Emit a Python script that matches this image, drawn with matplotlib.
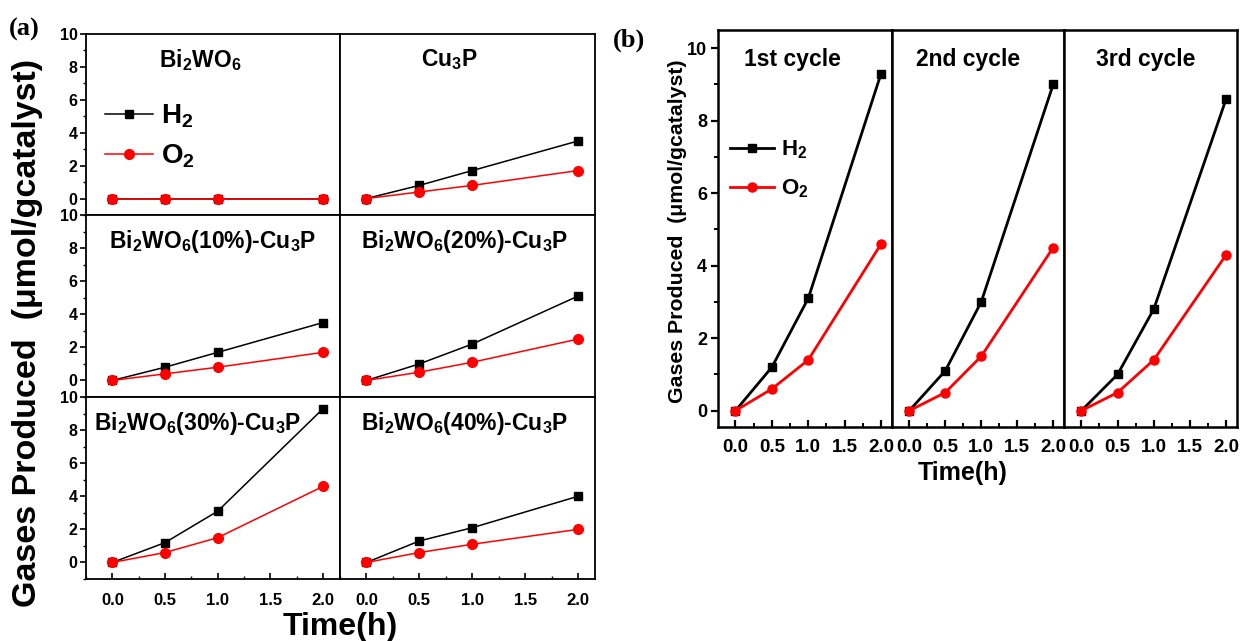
import matplotlib
matplotlib.use("Agg")
import matplotlib.pyplot as plt
from matplotlib.ticker import MultipleLocator

plt.rcParams['font.family'] = ['Liberation Sans', 'DejaVu Sans']
plt.rcParams['font.weight'] = 'bold'
plt.rcParams['mathtext.fontset'] = 'custom'
plt.rcParams['mathtext.rm'] = 'Liberation Sans:bold'
plt.rcParams['mathtext.bf'] = 'Liberation Sans:bold'
plt.rcParams['mathtext.it'] = 'Liberation Sans:bold'

# ---------------- data ----------------
time_h = [0.0, 0.5, 1.0, 2.0]

a_titles = [r'Bi$_{2}$WO$_{6}$', r'Cu$_{3}$P',
            r'Bi$_{2}$WO$_{6}$(10%)-Cu$_{3}$P', r'Bi$_{2}$WO$_{6}$(20%)-Cu$_{3}$P',
            r'Bi$_{2}$WO$_{6}$(30%)-Cu$_{3}$P', r'Bi$_{2}$WO$_{6}$(40%)-Cu$_{3}$P']
h2_bi2wo6 = [0, 0, 0, 0]
o2_bi2wo6 = [0, 0, 0, 0]
h2_cu3p = [0, 0.8, 1.7, 3.5]
o2_cu3p = [0, 0.4, 0.8, 1.7]
h2_10 = [0, 0.8, 1.7, 3.5]
o2_10 = [0, 0.4, 0.8, 1.7]
h2_20 = [0, 1.0, 2.2, 5.1]
o2_20 = [0, 0.5, 1.1, 2.5]
h2_30 = [0, 1.2, 3.1, 9.3]
o2_30 = [0, 0.6, 1.5, 4.6]
h2_40 = [0, 1.3, 2.1, 4.0]
o2_40 = [0, 0.6, 1.1, 2.0]

b_titles = ['1st cycle', '2nd cycle', '3rd cycle']
h2_cycle1 = [0, 1.2, 3.1, 9.3]
o2_cycle1 = [0, 0.6, 1.4, 4.6]
h2_cycle2 = [0, 1.1, 3.0, 9.0]
o2_cycle2 = [0, 0.5, 1.5, 4.5]
h2_cycle3 = [0, 1.0, 2.8, 8.6]
o2_cycle3 = [0, 0.5, 1.4, 4.3]

x_ticks = [0.0, 0.5, 1.0, 1.5, 2.0]
x_ticklabels = ['0.0', '0.5', '1.0', '1.5', '2.0']

a_h2 = [h2_bi2wo6, h2_cu3p, h2_10, h2_20, h2_30, h2_40]
a_o2 = [o2_bi2wo6, o2_cu3p, o2_10, o2_20, o2_30, o2_40]
b_h2 = [h2_cycle1, h2_cycle2, h2_cycle3]
b_o2 = [o2_cycle1, o2_cycle2, o2_cycle3]

W, H = 1240, 641
fig = plt.figure(figsize=(W / 100, H / 100), dpi=100)

def box(x0, y0, x1, y1):
    return [x0 / W, 1 - y1 / H, (x1 - x0) / W, (y1 - y0) / H]

# ---------------- panel (a) ----------------
col_x = [(86, 340), (340, 595)]
row_y = [(34, 215), (215, 397), (397, 579)]
title_x = [0.45, 0.43, 0.5, 0.49, 0.44, 0.49]
for i in range(6):
    r, c = divmod(i, 2)
    ax = fig.add_axes(box(col_x[c][0], row_y[r][0], col_x[c][1], row_y[r][1]))
    ax.plot(time_h, a_h2[i], color='black', lw=1.1, marker='s', ms=5.5, label=r'H$_{2}$')
    ax.plot(time_h, a_o2[i], color='#ff0000', lw=1.1, marker='o', ms=7, label=r'O$_{2}$')
    ax.set_xlim(-0.25, 2.16)
    ax.set_ylim(-1, 10)
    for s in ax.spines.values():
        s.set_linewidth(1.3)
    ax.text(title_x[i], 0.93, a_titles[i], transform=ax.transAxes, ha='center', va='top',
            fontsize=16.5, fontweight='bold')
    if c == 0:
        ax.set_yticks([0, 2, 4, 6, 8, 10])
        ax.yaxis.set_minor_locator(MultipleLocator(1))
        ax.tick_params(axis='y', which='major', direction='out', length=4, width=1.2,
                       labelsize=11.5, pad=2)
        ax.tick_params(axis='y', which='minor', direction='out', length=2.5, width=1.0)
        for lab in ax.get_yticklabels():
            lab.set_fontweight('bold')
    else:
        ax.set_yticks([])
    if r == 2:
        ax.set_xticks(x_ticks)
        ax.set_xticklabels(x_ticklabels, fontweight='bold')
        ax.xaxis.set_minor_locator(MultipleLocator(0.25))
        ax.tick_params(axis='x', which='major', direction='in', length=4, width=1.2,
                       labelsize=12, pad=10)
        ax.tick_params(axis='x', which='minor', direction='in', length=2.5, width=1.0)
    else:
        ax.set_xticks([])
    if i == 0:
        ax.legend(loc='upper left', bbox_to_anchor=(0.0, 0.73), frameon=False,
                  fontsize=20, handlelength=1.7, handletextpad=0.3, labelspacing=0.45,
                  borderaxespad=0.3)

fig.text(28 / W, 1 - 333 / H, 'Gases Produced  (μmol/gcatalyst)', rotation=90,
         ha='center', va='center', fontsize=24.5, fontweight='bold')
fig.text(340 / W, 1 - 627 / H, 'Time(h)', ha='center', va='center', fontsize=23,
         fontweight='bold')
fig.text(9 / W, 1 - 29 / H, '(a)', ha='left', va='center', fontsize=19,
         fontweight='bold', family='Liberation Serif')

# ---------------- panel (b) ----------------
bx = [(718, 892), (892, 1064), (1064, 1237)]
b_title_x = [0.43, 0.44, 0.47]
for j in range(3):
    ax = fig.add_axes(box(bx[j][0], 30, bx[j][1], 427))
    ax.plot(time_h, b_h2[j], color='black', lw=2.0, marker='s', ms=5.5, label=r'H$_{2}$')
    ax.plot(time_h, b_o2[j], color='#ff0000', lw=2.0, marker='o', ms=6.5, label=r'O$_{2}$')
    ax.set_xlim(-0.24, 2.15)
    ax.set_ylim(-0.45, 10.5)
    for s in ax.spines.values():
        s.set_linewidth(1.8)
    ax.text(b_title_x[j], 0.955, b_titles[j], transform=ax.transAxes, ha='center', va='top',
            fontsize=16.5, fontweight='bold')
    ax.set_xticks(x_ticks)
    ax.set_xticklabels(x_ticklabels, fontweight='bold')
    ax.xaxis.set_minor_locator(MultipleLocator(0.25))
    ax.tick_params(axis='x', which='major', direction='in', length=5, width=1.6,
                   labelsize=13.5, pad=9)
    ax.tick_params(axis='x', which='minor', direction='in', length=3, width=1.4)
    if j == 0:
        ax.set_yticks([0, 2, 4, 6, 8, 10])
        ax.yaxis.set_minor_locator(MultipleLocator(1))
        ax.tick_params(axis='y', which='major', direction='out', length=5, width=1.6,
                       labelsize=13, pad=3)
        ax.tick_params(axis='y', which='minor', direction='out', length=3, width=1.4)
        for lab in ax.get_yticklabels():
            lab.set_fontweight('bold')
        ax.legend(loc='upper left', bbox_to_anchor=(-0.01, 0.76), frameon=False,
                  fontsize=16, handlelength=2.0, handletextpad=0.3, labelspacing=0.75,
                  borderaxespad=0.2)
    else:
        ax.set_yticks([])

fig.text(677 / W, 1 - 231 / H, 'Gases Produced  (μmol/gcatalyst)', rotation=90,
         ha='center', va='center', fontsize=15.3, fontweight='bold')
fig.text(963 / W, 1 - 473 / H, 'Time(h)', ha='center', va='center', fontsize=18,
         fontweight='bold')
fig.text(613 / W, 1 - 40 / H, '(b)', ha='left', va='center', fontsize=19,
         fontweight='bold', family='Liberation Serif')

fig.savefig('out.png', dpi=100)
